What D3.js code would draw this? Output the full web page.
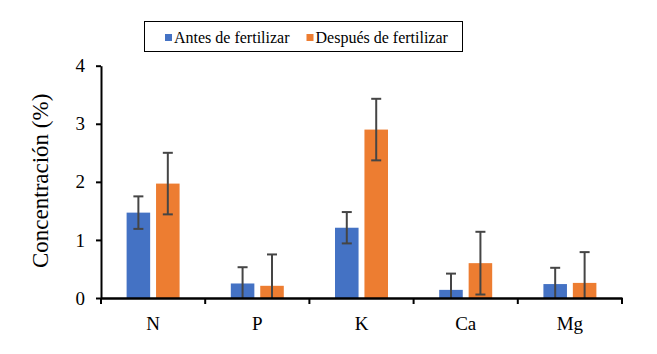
<!DOCTYPE html>
<html>
<head>
<meta charset="utf-8">
<script src="https://cdn.jsdelivr.net/npm/d3@7"></script>
<style>
  body { margin: 0; background: #fff; }
  text { font-family: "Liberation Serif", "Times New Roman", serif; }
</style>
</head>
<body>
<div id="chart"></div>
<script>
// datos
var nutrientes = ["N", "P", "K", "Ca", "Mg"];
var series = ["Antes de fertilizar", "Después de fertilizar"];
var antes = [1.47, 0.25, 1.21, 0.14, 0.24];
var despues = [1.97, 0.21, 2.90, 0.60, 0.26];
var errAntes = [0.28, 0.28, 0.27, 0.28, 0.28];
var errDespues = [0.53, 0.54, 0.53, 0.54, 0.53];
var yTicks = [0, 1, 2, 3, 4];

var colores = ["#4472C4", "#ED7D31"];

var W = 657, H = 354;
var margin = { top: 65.7, right: 35, bottom: 56, left: 101 };

var svg = d3.select("#chart")
  .append("svg")
  .attr("width", W)
  .attr("height", H);

var x = d3.scaleBand()
  .domain(nutrientes)
  .range([margin.left, 622])
  .padding(0);

var x1 = d3.scaleBand()
  .domain(series)
  .range([0, x.bandwidth()])
  .paddingInner(0.2)
  .paddingOuter(0.87);

var y = d3.scaleLinear()
  .domain([0, 4])
  .range([298, margin.top]);

var filas = nutrientes.map(function(n, i) {
  return [
    { cat: n, serie: series[0], v: antes[i], e: errAntes[i], c: colores[0] },
    { cat: n, serie: series[1], v: despues[i], e: errDespues[i], c: colores[1] }
  ];
});
var todos = d3.merge(filas);

// barras
svg.append("g")
  .selectAll("rect")
  .data(todos)
  .enter()
  .append("rect")
    .attr("x", d => x(d.cat) + x1(d.serie))
    .attr("y", d => y(d.v))
    .attr("width", x1.bandwidth())
    .attr("height", d => y(0) - y(d.v))
    .attr("fill", d => d.c);

// barras de error
var eb = svg.append("g")
  .attr("stroke", "#454545")
  .attr("stroke-width", 2);

todos.forEach(function(d) {
  var cx = x(d.cat) + x1(d.serie) + x1.bandwidth() / 2;
  var lo = Math.max(0, d.v - d.e), hi = d.v + d.e;
  eb.append("line").attr("x1", cx).attr("x2", cx).attr("y1", y(lo)).attr("y2", y(hi));
  eb.append("line").attr("x1", cx - 5).attr("x2", cx + 5).attr("y1", y(hi)).attr("y2", y(hi));
  if (d.v - d.e > 0)
    eb.append("line").attr("x1", cx - 5).attr("x2", cx + 5).attr("y1", y(lo)).attr("y2", y(lo));
});

// eje y
var yAxis = svg.append("g")
  .attr("transform", "translate(" + margin.left + ",0)")
  .call(d3.axisLeft(y).tickValues(yTicks).tickSize(5).tickSizeOuter(0).tickPadding(11).tickFormat(d3.format("d")));
yAxis.select(".domain").attr("stroke", "#000").attr("stroke-width", 2);
yAxis.selectAll(".tick line").attr("stroke", "#000").attr("stroke-width", 2);
yAxis.selectAll("text")
  .attr("font-size", 19)
  .attr("fill", "#000")
  .style("font-family", "Liberation Serif");

// eje x
var xAxis = svg.append("g")
  .attr("transform", "translate(0," + y(0) + ")")
  .call(d3.axisBottom(x).tickSize(0).tickPadding(18.5));
xAxis.select(".domain").attr("stroke", "#000").attr("stroke-width", 2.5);
xAxis.selectAll("text")
  .attr("font-size", 19)
  .attr("fill", "#000")
  .style("font-family", "Liberation Serif");

// marcas entre categorias
var limites = nutrientes.map(n => x(n)).concat([x(nutrientes[nutrientes.length - 1]) + x.bandwidth()]);
svg.append("g")
  .selectAll("line")
  .data(limites)
  .enter()
  .append("line")
    .attr("x1", d => d)
    .attr("x2", d => d)
    .attr("y1", y(0))
    .attr("y2", y(0) + 6)
    .attr("stroke", "#000")
    .attr("stroke-width", 2);

// titulo eje y
svg.append("text")
  .attr("transform", "translate(48," + ((y(0) + y(4)) / 2 - 1) + ") rotate(-90)")
  .attr("text-anchor", "middle")
  .attr("font-size", 23)
  .attr("fill", "#000")
  .text("Concentración (%)");

// leyenda
var leg = svg.append("g");
leg.append("rect")
  .attr("x", 144.5)
  .attr("y", 21.5)
  .attr("width", 318)
  .attr("height", 30)
  .attr("fill", "#fff")
  .attr("stroke", "#000")
  .attr("stroke-width", 1);

var legX = [165, 306.5];
series.forEach(function(s, i) {
  leg.append("rect")
    .attr("x", legX[i])
    .attr("y", 34)
    .attr("width", 7)
    .attr("height", 7)
    .attr("fill", colores[i]);
  leg.append("text")
    .attr("x", legX[i] + 9)
    .attr("y", 42.5)
    .attr("font-size", 16)
    .attr("fill", "#000")
    .text(s);
});
</script>
</body>
</html>
